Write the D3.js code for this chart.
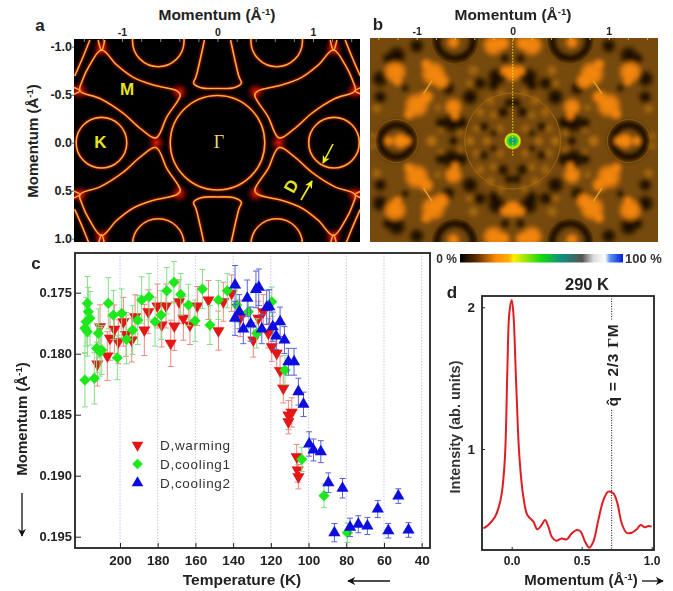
<!DOCTYPE html>
<html>
<head>
<meta charset="utf-8">
<script src="https://cdn.jsdelivr.net/npm/d3@7"></script>
<style>
body { margin: 0; background: #fff; }
text { font-family: "Liberation Sans", Arial, sans-serif; fill: #222; }
</style>
</head>
<body>
<div id="chart"></div>
<script>
// ---- panel a: Fermi surface contours, upper left quadrant, momentum units
const pocketM = [[-1.214,-.966],[-1.056,-.81],[-.881,-.68],[-.67,-.6],[-.424,-.54],[-.39,-.497],[-.53,-.27],[-.645,-.05],[-.81,-.15],[-.986,-.306],[-1.23,-.46],[-1.44,-.54],[-1.42,-.635],[-1.337,-.81]];
const pocketTop = [[.137,-1.07],[.224,-.69],[.25,-.62],[.172,-.573],[0,-.565],[-.172,-.573],[-.25,-.62],[-.224,-.69],[-.137,-1.07]];
const cornerArc = [[-1.337,-1.07],[-1.407,-.896],[-1.495,-.695]];
const spurTop = [[-1.25,-1.07],[-1.214,-.96],[-1.18,-1.07]];
const spurSide = [[-1.52,-.58],[-1.44,-.54],[-1.52,-.5]];
const gammaCircle = [0, 0, .495];
const kCircles = [[-1.215,0,.265],[1.22,0,.265],[-.62,-1.06,.27],[.62,-1.06,.27],[-.62,1.06,.27],[.62,1.06,.27]];
const hotSpots = [[-1.214,-.98],[-1.44,-.54],[-.4,-.53],[.4,-.53],[-.64,0],[.64,0],[1.214,-.98],[1.44,-.54],[-1.214,.98],[-1.44,.54],[-.4,.53],[.4,.53],[1.214,.98],[1.44,.54]];

// ---- panel b: bright / dim / dark patches of the map, one quadrant, mirrored when drawn
const brightSpots = [[-1.226,-.719,.13],[-1.2,-.62,.05],[-.826,-.701,.14],[-.74,-.62,.09],[-.9,-.8,.06],[-1.0,-.372,.14],[-.9,-.46,.08],[-1.08,-.28,.06],[-.618,-.354,.1],[-.6,-.26,.05],[-1.17,0,.08],[-1.29,0,.05],[-1.1,0,.05],[0,-.708,.09],[-.08,-.73,.06],[-.2,-.997,.12],[-.1,-1.02,.08],[-.618,-1.03,.07]];
const dimSpots = [[-.41,-.736,.07],[-1.417,-.337,.065],[-.844,0,.07],[-.233,-.424,.065],[-.444,0,.055],[-.27,0,.05],[-.13,-.13,.055],[-.375,-.128,.055],[-.2,-.27,.055],[-.55,-.09,.05],[-.34,-.3,.065],[-.12,-.5,.05],[-.45,-.6,.05],[-1.45,-.05,.05],[-.75,-.12,.05],[-.78,-.35,.05]];
const darkSpots = [[-1.208,-.892,.11],[-1.3,-.86,.07],[-1.382,-.649,.1],[-1.0,-.99,.09],[-.635,-.187,.12],[-.53,-.19,.08],[-.75,-.19,.07],[-.444,-.458,.1],[-.167,-.667,.11],[-.2,-.58,.07],[-.67,-.545,.08],[-.34,-.6,.08],[-1.38,-.458,.08],[-.618,0,.055],[-.1,-.3,.07],[-.3,-.15,.06],[-.2,-.08,.045],[-.04,-.4,.06],[-.08,-.86,.06],[-.5,-.87,.05],[-1.12,-.55,.05]];
const darkRings = [[-1.21,0,.17],[-.6,-1.05,.19]];
const paleRings = [[-1.21,0,.225],[-.6,-1.05,.25],[0,0,.5]];
const streaks = [[[-.93,-.49],[-.84,-.63]]];

// ---- colour bar stops (percent, colour)
const barStops = [[0,"#000"],[10,"#5a2d00"],[22,"#ff8a00"],[30,"#ffb000"],[33,"#fff000"],[50,"#10d810"],[62,"#0f8f80"],[75,"#555"],[82,"#ddd"],[89,"#fff"],[92,"#5a90f0"],[100,"#0020d8"]];

// ---- panel c: temperature (K), momentum, error
const warming = [[212,.18085,.0018],[210.6,.17779,.0018],[206.7,.18019,.002],[205.3,.17874,.0018],[203,.178,.002],[200.9,.17902,.0018],[198.2,.17738,.002],[196.8,.17842,.0018],[193.8,.17888,.0018],[192,.17697,.0018],[187.1,.17806,.0021],[185,.17656,.0018],[180.2,.17609,.0018],[177.9,.17765,.0018],[175.6,.17609,.0018],[173.1,.17915,.0019],[171.2,.17773,.002],[168.7,.17574,.0018],[166.4,.1771,.0018],[162.9,.17765,.0016],[159,.17609,.0016],[153.1,.1756,.0016],[147.8,.17811,.0016],[145.2,.17574,.0016],[140.8,.17505,.0015],[136.3,.1771,.0015],[129.3,.17888,.0014],[126.6,.1771,.0014],[124,.17656,.0014],[121.3,.17833,.0012],[119.5,.17943,.0012],[116.9,.17997,.0012],[115.1,.18139,.0012],[113.4,.18284,.0012],[110.7,.18503,.0012],[108.9,.18481,.0012],[110.7,.18557,.001],[106.3,.18844,.001],[105.8,.18953,.001],[105.4,.19008,.001]];
const cooling1 = [[218.6,.18216,.0022],[213.6,.18202,.0021],[201.4,.18033,.0018],[210.6,.17984,.002],[212.4,.17956,.002],[209.7,.1797,.002],[217.3,.17587,.0022],[216.8,.17656,.002],[215.9,.1771,.0022],[218.6,.17792,.002],[217.3,.1782,.002],[218,.17738,.002],[206.2,.17587,.0021],[203.5,.17683,.002],[199.1,.17669,.002],[211.5,.17833,.002],[196.5,.17883,.002],[193.3,.17806,.002],[190.6,.17724,.002],[188.5,.1756,.0019],[184.6,.17533,.0019],[181.4,.17738,.002],[178.2,.17683,.002],[175.2,.17484,.0019],[171.4,.17415,.0017],[167.8,.17514,.0017],[163.7,.17601,.0017],[160.2,.1773,.0017],[156.3,.1747,.0016],[152.3,.17765,.0016],[147.8,.1756,.0016],[143.1,.17484,.0014],[138.1,.17601,.0014],[131.9,.17656,.0014],[127.5,.17833,.0012],[119.5,.17574,.0012],[112.5,.18134,.0012],[103.6,.18866,.001],[91.8,.19164,.00096],[79.4,.19467,.0008]];
const cooling2 = [[139,.17437,.0016],[139,.1771,.0014],[136.7,.17656,.0014],[134.6,.17798,.0012],[132.5,.17546,.0015],[130.7,.17757,.0014],[127.9,.17473,.0015],[126.4,.17456,.0015],[124.8,.17798,.0012],[122.2,.1762,.0014],[120.8,.17615,.0014],[119,.17779,.0012],[115.1,.17738,.0012],[117.2,.17855,.0011],[112.8,.17888,.0011],[110.7,.18066,.0011],[107.7,.18066,.0011],[105.4,.18311,.0011],[102.7,.18415,.001],[99.7,.1874,.001],[97.4,.18789,.0009],[93.5,.18803,.0009],[89.5,.19057,.0008],[82,.19103,.0008],[86.3,.19467,.00075],[78,.19423,.00075],[73.6,.19398,.0007],[68.8,.19412,.0007],[63.3,.19273,.0007],[57.7,.19451,.0006],[52.4,.19167,.0006],[47,.19445,.0006]];
const tempTicks = [200,180,160,140,120,100,80,60,40];
const momentumTicks = [.175,.18,.185,.19,.195];

// ---- panel d: line cut at 290 K
const cutQ = [-.202,-.167,-.119,-.095,-.071,-.048,-.031,-.017,0,.012,.031,.055,.083,.112,.155,.183,.214,.238,.262,.286,.317,.357,.393,.429,.464,.493,.524,.555,.583,.619,.655,.69,.726,.755,.786,.821,.857,.893,.921,.952,.976,1];
const cutI = [.44,.464,.522,.581,.687,.946,1.558,1.958,2.052,1.958,1.487,.946,.664,.534,.487,.433,.464,.499,.452,.381,.353,.369,.362,.405,.428,.416,.346,.304,.346,.499,.64,.699,.687,.616,.475,.409,.409,.433,.464,.447,.456,.452];
const qLine = .714;

// ----------------------------------------------------------
const width = 673;
const height = 591;
const svg = d3.select("div#chart").append("svg").attr("width", width).attr("height", height);
const defs = svg.append("defs");

const addBlur = (id, s) => defs.append("filter").attr("id", id)
    .attr("x", "-20%").attr("y", "-20%").attr("width", "140%").attr("height", "140%")
    .append("feGaussianBlur").attr("stdDeviation", s);
addBlur("blurLine", 1.4);
addBlur("blurSoft", .5);
addBlur("blurMap", 2);
addBlur("blurMark", .5);

const radial = (id, stops) => {
    const g = defs.append("radialGradient").attr("id", id);
    stops.forEach(s => g.append("stop").attr("offset", s[0]).attr("stop-color", s[1]).attr("stop-opacity", s[2]));
};
radial("hotGrad", [[0, "#ff2000", .9], [.5, "#c01000", .5], [1, "#800000", 0]]);
radial("brightGrad", [[0, "#f98a0a", 1], [.6, "#f58608", .9], [1, "#f58608", 0]]);
radial("dimGrad", [[0, "#c07a12", .9], [1, "#c07a12", 0]]);
radial("darkGrad", [[0, "#120901", 1], [.6, "#1c0f02", .85], [1, "#1c0f02", 0]]);
radial("centreGrad", [[0, "#108a80", 1], [.35, "#10b060", 1], [.6, "#40e020", 1], [.8, "#f0f000", 1], [1, "#ff9000", 0]]);

const label = (x, y, txt, size, opt = {}) => svg.append("text").attr("x", x).attr("y", y)
    .attr("font-size", size).attr("font-weight", opt.weight || "bold")
    .attr("text-anchor", opt.anchor || "middle").style("fill", opt.fill || "#222")
    .text(txt);

const momentumLabel = (x, y, size, rotate) => {
    const t = svg.append("text").attr("font-size", size).attr("font-weight", "bold").attr("text-anchor", "middle")
        .attr("transform", `translate(${x},${y}) rotate(${rotate})`);
    t.append("tspan").text("Momentum (Å");
    t.append("tspan").attr("font-size", size * .62).attr("dy", -size * .32).text("-1");
    t.append("tspan").attr("dy", size * .32).text(")");
    return t;
};

const arrowHead = (id, colour) => defs.append("marker").attr("id", id).attr("viewBox", "0 0 10 10")
    .attr("refX", 9).attr("refY", 5).attr("markerWidth", 8).attr("markerHeight", 8)
    .attr("markerUnits", "userSpaceOnUse").attr("orient", "auto")
    .append("path").attr("d", "M0,0 L10,5 L0,10 L3,5 Z").attr("fill", colour);
arrowHead("headBlack", "#111");
arrowHead("headYellow", "#f2ee20");

const mirrorSigns = [[1, 1], [-1, 1], [1, -1], [-1, -1]];
// hyphen instead of the unicode minus d3.format gives
const hyphen = f => v => f(v).replace("\u2212", "-");

// ---- panel a
const aBox = { left: 74, right: 360, top: 39, bottom: 242 };
const xA = d3.scaleLinear().domain([-1, 1]).range([122, 313]);
const yA = d3.scaleLinear().domain([-1, 1]).range([46.7, 238.7]);
const rA = d3.scaleLinear().domain([0, 1]).range([0, 95.5]);

defs.append("clipPath").attr("id", "clipA").append("rect")
    .attr("x", aBox.left).attr("y", aBox.top).attr("width", aBox.right - aBox.left).attr("height", aBox.bottom - aBox.top);

svg.append("rect").attr("x", aBox.left).attr("y", aBox.top).attr("width", aBox.right - aBox.left)
    .attr("height", aBox.bottom - aBox.top).attr("fill", "#000");
const aGroup = svg.append("g").attr("clip-path", "url(#clipA)");
const glow = aGroup.append("g").attr("filter", "url(#blurLine)");
const mid = aGroup.append("g").attr("filter", "url(#blurSoft)");

aGroup.insert("g", ":first-child").selectAll("circle").data(hotSpots).join("circle")
    .attr("cx", d => xA(d[0])).attr("cy", d => yA(d[1])).attr("r", 10).attr("fill", "url(#hotGrad)");

const contour = curve => d3.line().x(d => xA(d[0])).y(d => yA(d[1])).curve(curve);
const shapes = [];
mirrorSigns.forEach(s => {
    const flip = p => p.map(d => [d[0] * s[0], d[1] * s[1]]);
    shapes.push(contour(d3.curveCatmullRomClosed)(flip(pocketM)));
    [cornerArc, spurTop, spurSide].forEach(p => shapes.push(contour(d3.curveCatmullRom)(flip(p))));
});
[1, -1].forEach(s => shapes.push(contour(d3.curveCatmullRom)(pocketTop.map(d => [d[0], d[1] * s]))));

const strokeLayer = (g, w, c) => {
    g.selectAll(null).data(shapes).join("path").attr("d", d => d)
        .attr("fill", "none").attr("stroke", c).attr("stroke-width", w);
    g.selectAll(null).data(kCircles.concat([gammaCircle])).join("circle")
        .attr("cx", d => xA(d[0])).attr("cy", d => yA(d[1])).attr("r", d => rA(d[2]))
        .attr("fill", "none").attr("stroke", c).attr("stroke-width", w);
};
strokeLayer(glow, 2.2, "#c01800");
strokeLayer(mid, 1.6, "#f98a10");
strokeLayer(mid, .5, "#ffd890");

const axisStyle = (g, colour) => {
    g.select(".domain").remove();
    g.selectAll("line").attr("stroke", colour);
    g.selectAll("text").attr("font-weight", "bold").style("fill", "#222");
};
const minorTicks = d3.range(-1.4, 1.41, .2).map(v => +v.toFixed(1));
svg.append("g").attr("transform", `translate(0,${aBox.top})`)
    .call(d3.axisTop(xA).tickValues([-1, 0, 1]).tickFormat(hyphen(d3.format("d"))).tickSize(0).tickPadding(3))
    .call(g => axisStyle(g, "#555")).selectAll("text").attr("font-size", 10.5);
svg.append("g").attr("transform", `translate(${aBox.left},0)`)
    .call(d3.axisLeft(yA).tickValues([-1, -.5, 0, .5, 1]).tickFormat(hyphen(d3.format(".1f"))).tickSize(2).tickPadding(0))
    .call(g => axisStyle(g, "#666")).selectAll("text").attr("font-size", 12.5);
svg.append("g").attr("transform", `translate(0,${aBox.top + 3})`)
    .call(d3.axisTop(xA).tickValues(minorTicks).tickFormat("").tickSize(3))
    .call(g => axisStyle(g, "#888"));

momentumLabel(217, 20, 15.5, 0);
momentumLabel(38, 141, 15, -90);
label(40, 31, "a", 17);

const yellow = "#e6e41e";
label(127, 95, "M", 17, { fill: yellow });
label(100.5, 148, "K", 17, { fill: yellow });
svg.append("text").attr("x", 219).attr("y", 148).attr("text-anchor", "middle").attr("font-size", 18)
    .style("font-family", "'Liberation Serif', serif").style("fill", "#e0dc70").text("Γ");
svg.append("text").attr("transform", "translate(291,186) rotate(-62)").attr("text-anchor", "middle")
    .attr("dy", 6).attr("font-size", 17).attr("font-weight", "bold").style("fill", yellow).text("D");
svg.append("line").attr("x1", 333).attr("y1", 144).attr("x2", 323).attr("y2", 163)
    .attr("stroke", "#f2ee20").attr("stroke-width", 1.6).attr("marker-end", "url(#headYellow)");
svg.append("line").attr("x1", 301).attr("y1", 200).attr("x2", 312).attr("y2", 181)
    .attr("stroke", "#f2ee20").attr("stroke-width", 1.6).attr("marker-end", "url(#headYellow)");

// ---- panel b
const bBox = { left: 370, right: 658, top: 38, bottom: 242 };
const xB = d3.scaleLinear().domain([-1, 1]).range([416.7, 608.7]);
const yB = d3.scaleLinear().domain([-1, 1]).range([45, 237]);
const rB = d3.scaleLinear().domain([0, 1]).range([0, 96]);

defs.append("clipPath").attr("id", "clipB").append("rect")
    .attr("x", bBox.left).attr("y", bBox.top).attr("width", bBox.right - bBox.left).attr("height", bBox.bottom - bBox.top);
const bGroup = svg.append("g").attr("clip-path", "url(#clipB)");
const bMap = bGroup.append("g").attr("filter", "url(#blurMap)");
bMap.append("rect").attr("x", bBox.left - 20).attr("y", bBox.top - 20)
    .attr("width", bBox.right - bBox.left + 40).attr("height", bBox.bottom - bBox.top + 40).attr("fill", "#764808");

const mirrored = list => list.flatMap(d => mirrorSigns.map(s => [d[0] * s[0], d[1] * s[1], d[2]]));
const spotLayer = (list, fill) => bMap.append("g").selectAll("circle").data(mirrored(list)).join("circle")
    .attr("cx", d => xB(d[0])).attr("cy", d => yB(d[1])).attr("r", d => rB(d[2])).attr("fill", fill);
spotLayer(dimSpots, "url(#dimGrad)");
spotLayer(darkSpots, "url(#darkGrad)");
bMap.append("g").selectAll("circle").data(mirrored(darkRings)).join("circle")
    .attr("cx", d => xB(d[0])).attr("cy", d => yB(d[1])).attr("r", d => rB(d[2]))
    .attr("fill", "none").attr("stroke", "#1e1002").attr("stroke-width", 8.5);
spotLayer(brightSpots, "url(#brightGrad)");
bGroup.append("g").attr("filter", "url(#blurSoft)").selectAll("circle").data(mirrored(paleRings)).join("circle")
    .attr("cx", d => xB(d[0])).attr("cy", d => yB(d[1])).attr("r", d => rB(d[2]))
    .attr("fill", "none").attr("stroke", "#a06a14").attr("stroke-width", .9).attr("opacity", .4);
bGroup.append("g").attr("filter", "url(#blurSoft)").selectAll("path")
    .data(streaks.flatMap(p => mirrorSigns.map(s => p.map(d => [d[0] * s[0], d[1] * s[1]])))).join("path")
    .attr("d", d3.line().x(d => xB(d[0])).y(d => yB(d[1])))
    .attr("stroke", "#e8a030").attr("stroke-width", 1.4);
bGroup.append("circle").attr("cx", xB(0)).attr("cy", yB(0)).attr("r", 9).attr("fill", "url(#centreGrad)");
bGroup.append("line").attr("x1", xB(0)).attr("x2", xB(0)).attr("y1", yB(-1.05)).attr("y2", yB(.17))
    .attr("stroke", "#f5e020").attr("stroke-width", 1.2).attr("stroke-dasharray", "1.2 1.8");

svg.append("g").attr("transform", `translate(0,${bBox.top})`)
    .call(d3.axisTop(xB).tickValues([-1, 0, 1]).tickFormat(hyphen(d3.format("d"))).tickSize(0).tickPadding(3))
    .call(g => axisStyle(g, "#555")).selectAll("text").attr("font-size", 10.5);
svg.append("g").attr("transform", `translate(0,${bBox.top + 2})`)
    .call(d3.axisTop(xB).tickValues(minorTicks).tickFormat("").tickSize(2))
    .call(g => axisStyle(g, "#ddb060"));
momentumLabel(513, 20, 15.5, 0);
label(378, 30, "b", 17);

// colour bar
const barX = d3.scaleLinear().domain([0, 100]).range([460, 623]);
const barGrad = defs.append("linearGradient").attr("id", "barGrad");
barStops.forEach(s => barGrad.append("stop").attr("offset", s[0] + "%").attr("stop-color", s[1]));
svg.append("rect").attr("x", barX(0)).attr("y", 254).attr("width", barX(100) - barX(0)).attr("height", 8.5)
    .attr("fill", "url(#barGrad)");
label(457, 263, "0 %", 12, { anchor: "end", fill: "#333" });
label(625, 263, "100 %", 13, { anchor: "start", fill: "#333" });

// ---- panel c
const cBox = { left: 75, right: 430, top: 253, bottom: 548 };
const xC = d3.scaleLinear().domain([200, 40]).range([120, 421.7]);
const yC = d3.scaleLinear().domain([.175, .195]).range([292.7, 536.7]);

const tickFormatC = d3.format(".3f");
svg.append("g").selectAll("line").data(tempTicks).join("line")
    .attr("x1", d => xC(d)).attr("x2", d => xC(d)).attr("y1", cBox.top).attr("y2", cBox.bottom)
    .attr("stroke", "#c4c8ec").attr("stroke-width", 1).attr("stroke-dasharray", "1.5 1.5");

const series = [
    { data: warming, colour: "#e41414", bar: "#f08a80", symbol: d3.symbolTriangle, size: 64, flip: true },
    { data: cooling1, colour: "#1ee81e", bar: "#86de86", symbol: d3.symbolDiamond2, size: 80, flip: false },
    { data: cooling2, colour: "#0a0ae0", bar: "#5a64d8", symbol: d3.symbolTriangle, size: 64, flip: false }
];
const marks = svg.append("g").attr("filter", "url(#blurMark)");
series.forEach(s => {
    const g = marks.append("g");
    g.selectAll(".err").data(s.data).join("path").attr("class", "err")
        .attr("d", d => {
            const x = xC(d[0]), y0 = yC(d[1] - d[2]), y1 = yC(d[1] + d[2]);
            return `M${x - 3},${y0}H${x + 3}M${x},${y0}V${y1}M${x - 3},${y1}H${x + 3}`;
        })
        .attr("fill", "none").attr("stroke", s.bar).attr("stroke-width", 1);
    g.selectAll(".pt").data(s.data).join("path").attr("class", "pt")
        .attr("d", d3.symbol().type(s.symbol).size(s.size))
        .attr("transform", d => `translate(${xC(d[0])},${yC(d[1])})${s.flip ? " rotate(180)" : ""}`)
        .attr("fill", s.colour);
});

svg.append("rect").attr("x", cBox.left).attr("y", cBox.top).attr("width", cBox.right - cBox.left)
    .attr("height", cBox.bottom - cBox.top).attr("fill", "none").attr("stroke", "#222").attr("stroke-width", 1.8);

svg.append("g").attr("transform", `translate(0,${cBox.bottom})`)
    .call(d3.axisTop(xC).tickValues(tempTicks).tickSize(5).tickFormat(""))
    .call(g => axisStyle(g, "#222"));
svg.append("g").attr("transform", `translate(0,${cBox.bottom})`)
    .call(d3.axisBottom(xC).tickValues(tempTicks).tickSize(0).tickPadding(7))
    .call(g => axisStyle(g, "#222")).selectAll("text").attr("font-size", 13.5);
svg.append("g").attr("transform", `translate(${cBox.left},0)`)
    .call(d3.axisRight(yC).tickValues(momentumTicks).tickSize(6).tickFormat(""))
    .call(g => axisStyle(g, "#222"));
svg.append("g").attr("transform", `translate(${cBox.left},0)`)
    .call(d3.axisLeft(yC).tickValues(momentumTicks).tickSize(0).tickPadding(3).tickFormat(tickFormatC))
    .call(g => axisStyle(g, "#222")).selectAll("text").attr("font-size", 13);

label(36, 269, "c", 17);
momentumLabel(27, 419, 15, -90);
label(242, 585, "Temperature (K)", 15.5);
svg.append("line").attr("x1", 22).attr("x2", 22).attr("y1", 493).attr("y2", 536)
    .attr("stroke", "#111").attr("stroke-width", 1.3).attr("marker-end", "url(#headBlack)");
svg.append("line").attr("x1", 390).attr("x2", 348).attr("y1", 581).attr("y2", 581)
    .attr("stroke", "#111").attr("stroke-width", 1.3).attr("marker-end", "url(#headBlack)");

// legend
const legendNames = ["D,warming", "D,cooling1", "D,cooling2"];
const legendY = d3.scalePoint().domain(legendNames).range([445, 483]);
legendNames.forEach((name, i) => {
    const s = series[i];
    svg.append("path").attr("d", d3.symbol().type(s.symbol).size(s.size * .9))
        .attr("transform", `translate(137.5,${legendY(name)})${s.flip ? " rotate(180)" : ""}`)
        .attr("fill", s.colour);
    label(160, legendY(name) + 5, name, 13.5, { anchor: "start", weight: "normal", fill: "#333" })
        .style("letter-spacing", ".7px");
});

// ---- panel d
const dBox = { left: 482, right: 654, top: 296, bottom: 550 };
const xD = d3.scaleLinear().domain([0, 1]).range([511.7, 651.7]);
const yD = d3.scaleLinear().domain([1, 2]).range([449, 307.3]);
const cutPoints = cutQ.map((q, i) => [q, cutI[i]]);

svg.append("line").attr("x1", xD(qLine)).attr("x2", xD(qLine)).attr("y1", dBox.top).attr("y2", 320)
    .attr("stroke", "#111").attr("stroke-dasharray", "1 1.5");
svg.append("line").attr("x1", xD(qLine)).attr("x2", xD(qLine)).attr("y1", 410).attr("y2", dBox.bottom)
    .attr("stroke", "#111").attr("stroke-dasharray", "1 1.5");

svg.append("path").datum(cutPoints)
    .attr("d", d3.line().x(d => xD(d[0])).y(d => yD(d[1])).curve(d3.curveCatmullRom.alpha(.5)))
    .attr("fill", "none").attr("stroke", "#e01f24").attr("stroke-width", 2).attr("filter", "url(#blurMark)");

svg.append("rect").attr("x", dBox.left).attr("y", dBox.top).attr("width", dBox.right - dBox.left)
    .attr("height", dBox.bottom - dBox.top).attr("fill", "none").attr("stroke", "#222").attr("stroke-width", 1.8);
svg.append("g").attr("transform", `translate(${dBox.left},0)`)
    .call(d3.axisRight(yD).tickValues([1, 2]).tickSize(3).tickFormat(""))
    .call(g => axisStyle(g, "#222"));
svg.append("g").attr("transform", `translate(${dBox.left},0)`)
    .call(d3.axisLeft(yD).tickValues([1, 2]).tickSize(0).tickPadding(7).tickFormat(d3.format("d")))
    .call(g => axisStyle(g, "#222")).selectAll("text").attr("font-size", 13.5);
svg.append("g").attr("transform", `translate(0,${dBox.bottom})`)
    .call(d3.axisTop(xD).tickValues([0, .5, 1]).tickSize(3).tickFormat(""))
    .call(g => axisStyle(g, "#222"));
svg.append("g").attr("transform", `translate(0,${dBox.bottom})`)
    .call(d3.axisBottom(xD).tickValues([0, .5, 1]).tickSize(0).tickPadding(6).tickFormat(d3.format(".1f")))
    .call(g => axisStyle(g, "#222")).selectAll("text").attr("font-size", 12);

label(452, 298, "d", 17);
label(587, 290, "290 K", 16.5);
svg.append("text").attr("transform", "translate(460,427) rotate(-90)").attr("text-anchor", "middle")
    .attr("font-size", 14.5).attr("font-weight", "bold").style("fill", "#333").text("Intensity (ab. units)");
momentumLabel(581, 585, 15, 0);
svg.append("line").attr("x1", 642).attr("x2", 663).attr("y1", 581).attr("y2", 581)
    .attr("stroke", "#111").attr("stroke-width", 1.3).attr("marker-end", "url(#headBlack)");

const qLabel = svg.append("text").attr("transform", "translate(618,365) rotate(-90)").attr("text-anchor", "middle")
    .attr("font-size", 15.5).attr("font-weight", "bold").style("letter-spacing", ".7px");
qLabel.append("tspan").text("q\u0302 = 2/3 ");
qLabel.append("tspan").style("font-family", "'Liberation Serif', serif").text("Γ");
qLabel.append("tspan").text("M");
</script>
</body>
</html>
